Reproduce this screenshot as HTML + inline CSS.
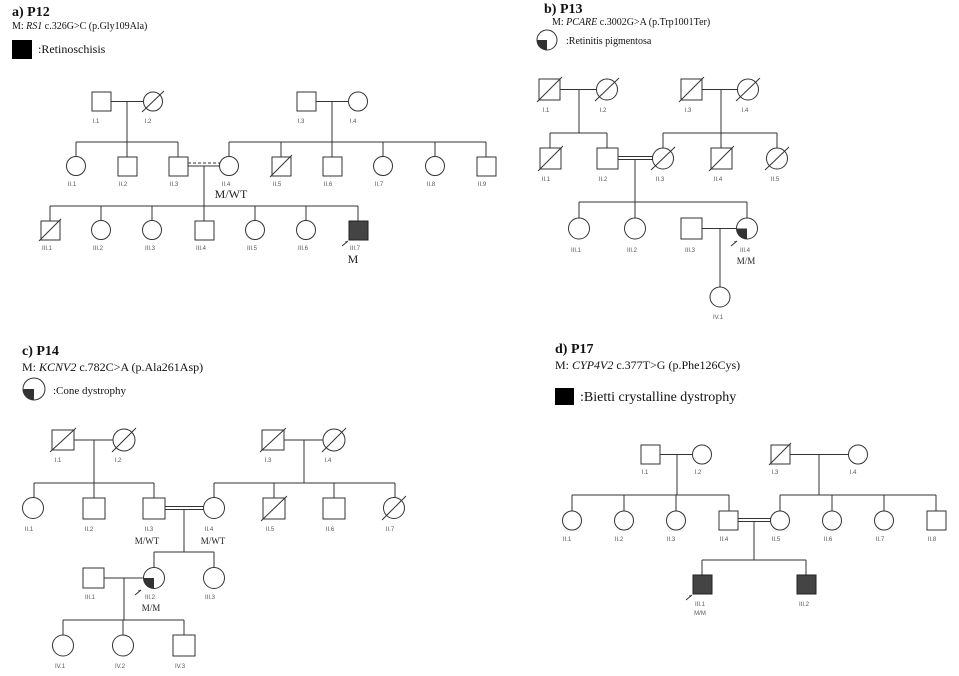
<!DOCTYPE html>
<html><head><meta charset="utf-8"><style>
html,body{margin:0;padding:0;background:#fff;}
svg{display:block;}
.l{stroke:#333;stroke-width:1;fill:none;}
.s{stroke:#333;stroke-width:1;fill:#fff;}
.f{fill:#444;stroke:#222;stroke-width:1;}
.lb{font-family:"Liberation Sans",sans-serif;font-size:6px;fill:#555;text-anchor:middle;}
.t{font-family:"Liberation Serif",serif;fill:#111;}
.g{font-family:"Liberation Serif",serif;fill:#222;text-anchor:middle;}
</style></head><body>
<svg width="959" height="676" viewBox="0 0 959 676" xmlns="http://www.w3.org/2000/svg">
<!-- ===== Panel a ===== -->
<text class="t" x="12" y="16" font-size="14" font-weight="bold">a) P12</text>
<text class="t" x="12" y="29" font-size="10">M: <tspan font-style="italic">RS1</tspan> c.326G&gt;C (p.Gly109Ala)</text>
<rect x="12" y="40" width="20" height="19" fill="#000"/>
<text class="t" x="38" y="53" font-size="12">:Retinoschisis</text>
<!-- gen I -->
<rect class="s" x="92" y="92" width="19" height="19"/>
<circle class="s" cx="153" cy="101.5" r="9.5"/><line class="l" x1="142" y1="112" x2="164" y2="91"/>
<line class="l" x1="111" y1="101.5" x2="143" y2="101.5"/>
<line class="l" x1="127" y1="101.5" x2="127" y2="142"/>
<line class="l" x1="76" y1="142" x2="178" y2="142"/>
<rect class="s" x="297" y="92" width="19" height="19"/>
<circle class="s" cx="358" cy="101.5" r="9.5"/>
<line class="l" x1="316" y1="101.5" x2="348" y2="101.5"/>
<line class="l" x1="332" y1="101.5" x2="332" y2="142"/>
<line class="l" x1="229" y1="142" x2="486" y2="142"/>
<g class="l">
<line x1="76" y1="142" x2="76" y2="157"/><line x1="127" y1="142" x2="127" y2="157"/><line x1="178" y1="142" x2="178" y2="157"/>
<line x1="229" y1="142" x2="229" y2="157"/><line x1="281" y1="142" x2="281" y2="157"/><line x1="332" y1="142" x2="332" y2="157"/>
<line x1="383" y1="142" x2="383" y2="157"/><line x1="435" y1="142" x2="435" y2="157"/><line x1="486" y1="142" x2="486" y2="157"/>
</g>
<text class="lb" x="96" y="123">I.1</text><text class="lb" x="148" y="123">I.2</text>
<text class="lb" x="301" y="123">I.3</text><text class="lb" x="353" y="123">I.4</text>
<!-- gen II -->
<circle class="s" cx="76" cy="166" r="9.5"/>
<rect class="s" x="118" y="157" width="19" height="19"/>
<rect class="s" x="169" y="157" width="19" height="19"/>
<circle class="s" cx="229" cy="166" r="9.5"/>
<rect class="s" x="272" y="157" width="19" height="19"/><line class="l" x1="270" y1="177" x2="292" y2="155"/>
<rect class="s" x="323" y="157" width="19" height="19"/>
<circle class="s" cx="383" cy="166" r="9.5"/>
<circle class="s" cx="435" cy="166" r="9.5"/>
<rect class="s" x="477" y="157" width="19" height="19"/>
<line class="l" x1="188" y1="163" x2="220" y2="163" stroke-dasharray="3,2"/>
<line class="l" x1="188" y1="166" x2="220" y2="166"/>
<line class="l" x1="204" y1="166" x2="204" y2="206"/>
<line class="l" x1="50" y1="206" x2="358" y2="206"/>
<text class="lb" x="72" y="186">II.1</text><text class="lb" x="123" y="186">II.2</text><text class="lb" x="174" y="186">II.3</text>
<text class="lb" x="226" y="186">II.4</text><text class="lb" x="277" y="186">II.5</text><text class="lb" x="328" y="186">II.6</text>
<text class="lb" x="379" y="186">II.7</text><text class="lb" x="431" y="186">II.8</text><text class="lb" x="482" y="186">II.9</text>
<text class="g" x="231" y="198" font-size="12">M/WT</text>
<!-- gen III -->
<g class="l">
<line x1="50" y1="206" x2="50" y2="221"/><line x1="101" y1="206" x2="101" y2="221"/><line x1="152" y1="206" x2="152" y2="221"/>
<line x1="204" y1="206" x2="204" y2="221"/><line x1="255" y1="206" x2="255" y2="221"/><line x1="306" y1="206" x2="306" y2="221"/><line x1="358" y1="206" x2="358" y2="221"/>
</g>
<rect class="s" x="41" y="221" width="19" height="19"/><line class="l" x1="39" y1="241" x2="61" y2="219"/>
<circle class="s" cx="101" cy="230" r="9.5"/>
<circle class="s" cx="152" cy="230" r="9.5"/>
<rect class="s" x="195" y="221" width="19" height="19"/>
<circle class="s" cx="255" cy="230" r="9.5"/>
<circle class="s" cx="306" cy="230" r="9.5"/>
<rect class="f" x="349" y="221" width="19" height="19"/>
<line class="l" x1="342" y1="246" x2="348" y2="241"/><path d="M348,241 l-3,0.5 l1.5,1.5z" fill="#333"/>
<text class="lb" x="47" y="250">III.1</text><text class="lb" x="98" y="250">III.2</text><text class="lb" x="150" y="250">III.3</text>
<text class="lb" x="201" y="250">III.4</text><text class="lb" x="252" y="250">III.5</text><text class="lb" x="303" y="250">III.6</text><text class="lb" x="355" y="250">III.7</text>
<text class="g" x="353" y="263" font-size="12">M</text>

<!-- ===== Panel b ===== -->
<text class="t" x="544" y="13" font-size="14" font-weight="bold">b) P13</text>
<text class="t" x="552" y="25" font-size="10">M: <tspan font-style="italic">PCARE</tspan> c.3002G&gt;A (p.Trp1001Ter)</text>
<circle class="s" cx="547" cy="40" r="10"/><path d="M537,40 L547,40 L547,50 A10,10 0 0 1 537,40z" fill="#333"/>
<text class="t" x="566" y="44" font-size="10">:Retinitis pigmentosa</text>
<!-- gen I -->
<rect class="s" x="539" y="79" width="21" height="21"/><line class="l" x1="537" y1="102" x2="562" y2="77"/>
<circle class="s" cx="607" cy="89.5" r="10.5"/><line class="l" x1="595" y1="101" x2="619" y2="78"/>
<line class="l" x1="560" y1="89.5" x2="596" y2="89.5"/>
<line class="l" x1="579" y1="89.5" x2="579" y2="133"/>
<line class="l" x1="550" y1="133" x2="607" y2="133"/>
<rect class="s" x="681" y="79" width="21" height="21"/><line class="l" x1="679" y1="102" x2="704" y2="77"/>
<circle class="s" cx="748" cy="89.5" r="10.5"/><line class="l" x1="736" y1="101" x2="760" y2="78"/>
<line class="l" x1="702" y1="89.5" x2="737" y2="89.5"/>
<line class="l" x1="721" y1="89.5" x2="721" y2="133"/>
<line class="l" x1="663" y1="133" x2="777" y2="133"/>
<text class="lb" x="546" y="112">I.1</text><text class="lb" x="603" y="112">I.2</text>
<text class="lb" x="688" y="112">I.3</text><text class="lb" x="745" y="112">I.4</text>
<!-- gen II -->
<g class="l">
<line x1="550" y1="133" x2="550" y2="148"/><line x1="607" y1="133" x2="607" y2="148"/>
<line x1="663" y1="133" x2="663" y2="148"/><line x1="721" y1="133" x2="721" y2="148"/><line x1="777" y1="133" x2="777" y2="148"/>
</g>
<rect class="s" x="540" y="148" width="21" height="21"/><line class="l" x1="538" y1="171" x2="563" y2="146"/>
<rect class="s" x="597" y="148" width="21" height="21"/>
<circle class="s" cx="663" cy="158.5" r="10.5"/><line class="l" x1="651" y1="170" x2="675" y2="147"/>
<rect class="s" x="711" y="148" width="21" height="21"/><line class="l" x1="709" y1="171" x2="734" y2="146"/>
<circle class="s" cx="777" cy="158.5" r="10.5"/><line class="l" x1="765" y1="170" x2="789" y2="147"/>
<line class="l" x1="618" y1="156.5" x2="653" y2="156.5"/><line class="l" x1="618" y1="159.5" x2="653" y2="159.5"/>
<line class="l" x1="635" y1="159.5" x2="635" y2="202"/>
<line class="l" x1="579" y1="202" x2="747" y2="202"/>
<text class="lb" x="546" y="181">II.1</text><text class="lb" x="603" y="181">II.2</text><text class="lb" x="660" y="181">II.3</text>
<text class="lb" x="718" y="181">II.4</text><text class="lb" x="775" y="181">II.5</text>
<!-- gen III -->
<g class="l"><line x1="579" y1="202" x2="579" y2="218"/><line x1="635" y1="202" x2="635" y2="218"/><line x1="747" y1="202" x2="747" y2="218"/></g>
<circle class="s" cx="579" cy="228.5" r="10.5"/>
<circle class="s" cx="635" cy="228.5" r="10.5"/>
<rect class="s" x="681" y="218" width="21" height="21"/>
<circle class="s" cx="747" cy="228.5" r="10.5"/><path d="M736.5,228.5 L747,228.5 L747,239 A10.5,10.5 0 0 1 736.5,228.5z" fill="#333"/>
<line class="l" x1="702" y1="228.5" x2="736.5" y2="228.5"/>
<line class="l" x1="720" y1="228.5" x2="720" y2="287"/>
<circle class="s" cx="720" cy="297" r="10"/>
<line class="l" x1="731" y1="246" x2="737" y2="241"/><path d="M737,241 l-3,0.5 l1.5,1.5z" fill="#333"/>
<text class="lb" x="576" y="252">III.1</text><text class="lb" x="632" y="252">III.2</text><text class="lb" x="690" y="252">III.3</text><text class="lb" x="745" y="252">III.4</text>
<text class="g" x="746" y="264" font-size="9">M/M</text>
<text class="lb" x="718" y="319">IV.1</text>

<!-- ===== Panel c ===== -->
<text class="t" x="22" y="355" font-size="14" font-weight="bold">c) P14</text>
<text class="t" x="22" y="371" font-size="12">M: <tspan font-style="italic">KCNV2</tspan> c.782C&gt;A (p.Ala261Asp)</text>
<circle class="s" cx="34" cy="389" r="11"/><path d="M23,389 L34,389 L34,400 A11,11 0 0 1 23,389z" fill="#333"/>
<text class="t" x="53" y="394" font-size="11">:Cone dystrophy</text>
<!-- gen I -->
<rect class="s" x="52" y="430" width="22" height="20"/><line class="l" x1="50" y1="452" x2="76" y2="428"/>
<circle class="s" cx="124" cy="440" r="11"/><line class="l" x1="112" y1="452" x2="136" y2="428"/>
<line class="l" x1="74" y1="440" x2="113" y2="440"/>
<line class="l" x1="94" y1="440" x2="94" y2="483"/>
<line class="l" x1="34" y1="483" x2="154" y2="483"/>
<rect class="s" x="262" y="430" width="22" height="20"/><line class="l" x1="260" y1="452" x2="286" y2="428"/>
<circle class="s" cx="334" cy="440" r="11"/><line class="l" x1="322" y1="452" x2="346" y2="428"/>
<line class="l" x1="284" y1="440" x2="323" y2="440"/>
<line class="l" x1="304" y1="440" x2="304" y2="483"/>
<line class="l" x1="214" y1="483" x2="395" y2="483"/>
<text class="lb" x="58" y="462">I.1</text><text class="lb" x="118" y="462">I.2</text>
<text class="lb" x="268" y="462">I.3</text><text class="lb" x="328" y="462">I.4</text>
<!-- gen II -->
<g class="l">
<line x1="34" y1="483" x2="34" y2="498"/><line x1="94" y1="483" x2="94" y2="498"/><line x1="154" y1="483" x2="154" y2="498"/>
<line x1="214" y1="483" x2="214" y2="498"/><line x1="274" y1="483" x2="274" y2="498"/><line x1="334" y1="483" x2="334" y2="498"/><line x1="395" y1="483" x2="395" y2="498"/>
</g>
<circle class="s" cx="33" cy="508" r="10.5"/>
<rect class="s" x="83" y="498" width="22" height="21"/>
<rect class="s" x="143" y="498" width="22" height="21"/>
<circle class="s" cx="214" cy="508" r="10.5"/>
<rect class="s" x="263" y="498" width="22" height="21"/><line class="l" x1="261" y1="521" x2="287" y2="496"/>
<rect class="s" x="323" y="498" width="22" height="21"/>
<circle class="s" cx="394" cy="508" r="10.5"/><line class="l" x1="382" y1="520" x2="406" y2="496"/>
<line class="l" x1="165" y1="506.5" x2="203.5" y2="506.5"/><line class="l" x1="165" y1="509.5" x2="203.5" y2="509.5"/>
<line class="l" x1="184" y1="509.5" x2="184" y2="552"/>
<line class="l" x1="154" y1="552" x2="214" y2="552"/>
<text class="lb" x="29" y="531">II.1</text><text class="lb" x="89" y="531">II.2</text><text class="lb" x="149" y="531">II.3</text>
<text class="lb" x="209" y="531">II.4</text><text class="lb" x="270" y="531">II.5</text><text class="lb" x="330" y="531">II.6</text><text class="lb" x="390" y="531">II.7</text>
<text class="g" x="147" y="544" font-size="9">M/WT</text><text class="g" x="213" y="544" font-size="9">M/WT</text>
<!-- gen III -->
<g class="l"><line x1="154" y1="552" x2="154" y2="568"/><line x1="214" y1="552" x2="214" y2="568"/></g>
<rect class="s" x="83" y="568" width="21" height="20"/>
<circle class="s" cx="154" cy="578" r="10.5"/><path d="M143.5,578 L154,578 L154,588.5 A10.5,10.5 0 0 1 143.5,578z" fill="#333"/>
<circle class="s" cx="214" cy="578" r="10.5"/>
<line class="l" x1="104" y1="578" x2="143.5" y2="578"/>
<line class="l" x1="124" y1="578" x2="124" y2="620"/>
<line class="l" x1="63" y1="620" x2="184" y2="620"/>
<line class="l" x1="135" y1="595" x2="141" y2="590"/><path d="M141,590 l-3,0.5 l1.5,1.5z" fill="#333"/>
<text class="lb" x="90" y="599">III.1</text><text class="lb" x="150" y="599">III.2</text><text class="lb" x="210" y="599">III.3</text>
<text class="g" x="151" y="611" font-size="9">M/M</text>
<!-- gen IV -->
<g class="l"><line x1="63" y1="620" x2="63" y2="635"/><line x1="123" y1="620" x2="123" y2="635"/><line x1="184" y1="620" x2="184" y2="635"/></g>
<circle class="s" cx="63" cy="645.5" r="10.5"/>
<circle class="s" cx="123" cy="645.5" r="10.5"/>
<rect class="s" x="173" y="635" width="22" height="21"/>
<text class="lb" x="60" y="668">IV.1</text><text class="lb" x="120" y="668">IV.2</text><text class="lb" x="180" y="668">IV.3</text>

<!-- ===== Panel d ===== -->
<text class="t" x="555" y="353" font-size="14" font-weight="bold">d) P17</text>
<text class="t" x="555" y="369" font-size="12">M: <tspan font-style="italic">CYP4V2</tspan> c.377T&gt;G (p.Phe126Cys)</text>
<rect x="555" y="388" width="19" height="17" fill="#000"/>
<text class="t" x="580" y="401" font-size="14">:Bietti crystalline dystrophy</text>
<!-- gen I -->
<rect class="s" x="641" y="445" width="19" height="19"/>
<circle class="s" cx="702" cy="454.5" r="9.5"/>
<line class="l" x1="660" y1="454.5" x2="692" y2="454.5"/>
<line class="l" x1="677" y1="454.5" x2="677" y2="495"/>
<line class="l" x1="572" y1="495" x2="729" y2="495"/>
<rect class="s" x="771" y="445" width="19" height="19"/><line class="l" x1="769" y1="465" x2="791" y2="443"/>
<circle class="s" cx="858" cy="454.5" r="9.5"/>
<line class="l" x1="790" y1="454.5" x2="848" y2="454.5"/>
<line class="l" x1="819" y1="454.5" x2="819" y2="495"/>
<line class="l" x1="780" y1="495" x2="936" y2="495"/>
<text class="lb" x="645" y="474">I.1</text><text class="lb" x="698" y="474">I.2</text>
<text class="lb" x="775" y="474">I.3</text><text class="lb" x="853" y="474">I.4</text>
<!-- gen II -->
<g class="l">
<line x1="572" y1="495" x2="572" y2="511"/><line x1="624" y1="495" x2="624" y2="511"/><line x1="676" y1="495" x2="676" y2="511"/><line x1="729" y1="495" x2="729" y2="511"/>
<line x1="780" y1="495" x2="780" y2="511"/><line x1="832" y1="495" x2="832" y2="511"/><line x1="884" y1="495" x2="884" y2="511"/><line x1="936" y1="495" x2="936" y2="511"/>
</g>
<circle class="s" cx="572" cy="520.5" r="9.5"/>
<circle class="s" cx="624" cy="520.5" r="9.5"/>
<circle class="s" cx="676" cy="520.5" r="9.5"/>
<rect class="s" x="719" y="511" width="19" height="19"/>
<circle class="s" cx="780" cy="520.5" r="9.5"/>
<circle class="s" cx="832" cy="520.5" r="9.5"/>
<circle class="s" cx="884" cy="520.5" r="9.5"/>
<rect class="s" x="927" y="511" width="19" height="19"/>
<line class="l" x1="738" y1="518.5" x2="770.5" y2="518.5"/><line class="l" x1="738" y1="521.5" x2="770.5" y2="521.5"/>
<line class="l" x1="754" y1="521.5" x2="754" y2="560"/>
<line class="l" x1="702" y1="560" x2="806" y2="560"/>
<text class="lb" x="567" y="541">II.1</text><text class="lb" x="619" y="541">II.2</text><text class="lb" x="671" y="541">II.3</text><text class="lb" x="724" y="541">II.4</text>
<text class="lb" x="776" y="541">II.5</text><text class="lb" x="828" y="541">II.6</text><text class="lb" x="880" y="541">II.7</text><text class="lb" x="932" y="541">II.8</text>
<!-- gen III -->
<g class="l"><line x1="702" y1="560" x2="702" y2="575"/><line x1="806" y1="560" x2="806" y2="575"/></g>
<rect class="f" x="693" y="575" width="19" height="19"/>
<rect class="f" x="797" y="575" width="19" height="19"/>
<line class="l" x1="686" y1="600" x2="692" y2="595"/><path d="M692,595 l-3,0.5 l1.5,1.5z" fill="#333"/>
<text class="lb" x="700" y="606">III.1</text><text class="lb" x="804" y="606">III.2</text>
<text class="lb" x="700" y="615">M/M</text>
</svg>
</body></html>
